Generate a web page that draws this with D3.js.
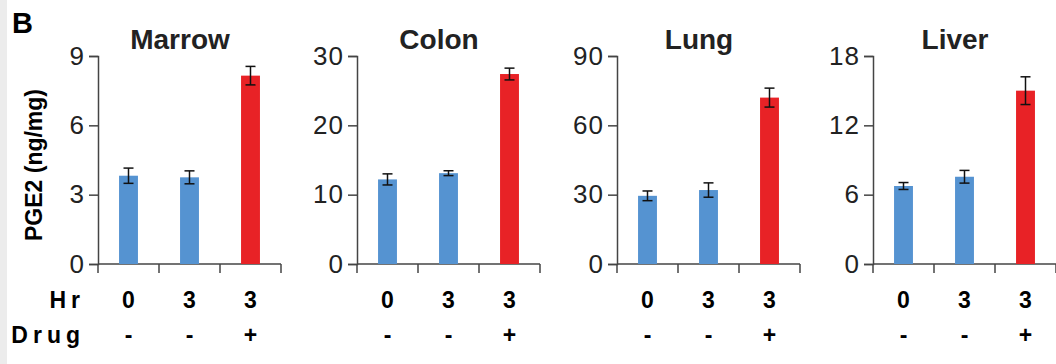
<!DOCTYPE html>
<html>
<head>
<meta charset="utf-8">
<script src="https://cdn.jsdelivr.net/npm/d3@7"></script>
<style>
  html, body { margin: 0; padding: 0; background: #fff; overflow: hidden; }
  svg { display: block; }
  svg text { font-family: "Liberation Sans", Arial, Helvetica, sans-serif; }
</style>
</head>
<body>
<div id="chart"></div>
<script>
// data
var tissues = ['Marrow', 'Colon', 'Lung', 'Liver'];
var yMax = [9, 30, 90, 18];
var tickStep = [3, 10, 30, 6];
var hrLabels = ['0', '3', '3'];
var drugLabels = ['-', '-', '+'];
var means = [
    [3.82, 3.75, 8.15],
    [12.2, 13.1, 27.4],
    [29.5, 32.0, 72.0],
    [6.75, 7.55, 15.0]
];
var errs = [
    [0.33, 0.28, 0.4],
    [0.8, 0.35, 0.85],
    [2.1, 3.1, 4.1],
    [0.3, 0.55, 1.2]
];
var barColors = ['#5593d1', '#5593d1', '#e82226'];

var width = 1056;
var height = 364;

var panelX = [98, 357, 617, 873];
var panelW = 183;
var yTop = 56;
var yBottom = 264;

var svg = d3.select('#chart').append('svg')
    .attr('width', width)
    .attr('height', height);

// light strip at the left edge of the scan
svg.append('rect')
    .attr('x', 0).attr('y', 0)
    .attr('width', 7).attr('height', height)
    .style('fill', '#ececec');

svg.append('text')
    .attr('x', 12).attr('y', 33)
    .style('font-size', '29px')
    .style('font-weight', 'bold')
    .text('B');

svg.append('text')
    .attr('transform', 'translate(' + 42 + ',' + 165 + ') rotate(-90)')
    .attr('text-anchor', 'middle')
    .style('font-size', '23px')
    .style('font-weight', 'bold')
    .text('PGE2 (ng/mg)');

// row labels
svg.append('text')
    .attr('x', 85).attr('y', 308)
    .attr('text-anchor', 'end')
    .style('font-size', '23px')
    .style('font-weight', 'bold')
    .style('letter-spacing', '5px')
    .text('Hr');
svg.append('text')
    .attr('x', 85).attr('y', 343)
    .attr('text-anchor', 'end')
    .style('font-size', '23px')
    .style('font-weight', 'bold')
    .style('letter-spacing', '5px')
    .text('Drug');

var xScale = d3.scaleBand()
    .domain([0, 1, 2])
    .range([0, panelW])
    .paddingInner(0.69)
    .paddingOuter(0.345);

tissues.forEach(function (name, i) {
    var g = svg.append('g')
        .attr('transform', 'translate(' + panelX[i] + ',0)');

    var yScale = d3.scaleLinear()
        .domain([0, yMax[i]])
        .range([yBottom, yTop]);

    var ticks = d3.range(0, yMax[i] + tickStep[i] / 2, tickStep[i]);

    var yAxis = d3.axisLeft(yScale)
        .tickValues(ticks)
        .tickSize(9)
        .tickPadding(4)
        .tickFormat(d3.format('d'));

    var yG = g.append('g').call(yAxis);
    yG.select('.domain').attr('stroke', '#444').attr('stroke-width', 1.5);
    yG.selectAll('.tick line').attr('stroke', '#444').attr('stroke-width', 1.5);
    yG.selectAll('.tick text')
        .style('font-size', '26px')
        .style('letter-spacing', '1px')
        .attr('fill', '#222');

    // x axis with ticks at the category edges
    var edges = d3.range(0, 4).map(function (k) { return k * xScale.step(); });
    var xG = g.append('g').attr('transform', 'translate(0,' + yBottom + ')');
    xG.append('line')
        .attr('x1', 0).attr('x2', panelW)
        .attr('stroke', '#444').attr('stroke-width', 1.5);
    xG.selectAll('.xtick')
        .data(edges)
        .enter()
        .append('line')
        .classed('xtick', true)
        .attr('x1', function (d) { return d; })
        .attr('x2', function (d) { return d; })
        .attr('y1', 0).attr('y2', 9)
        .attr('stroke', '#444').attr('stroke-width', 1.5);

    var rows = means[i].map(function (m, k) {
        return { k: k, m: m, e: errs[i][k] };
    });

    g.selectAll('.bar')
        .data(rows)
        .enter()
        .append('rect')
        .classed('bar', true)
        .attr('x', function (d) { return xScale(d.k); })
        .attr('y', function (d) { return yScale(d.m); })
        .attr('width', xScale.bandwidth())
        .attr('height', function (d) { return yBottom - yScale(d.m); })
        .style('fill', function (d) { return barColors[d.k]; });

    var eg = g.selectAll('.err')
        .data(rows)
        .enter()
        .append('g')
        .classed('err', true)
        .attr('transform', function (d) {
            return 'translate(' + (xScale(d.k) + xScale.bandwidth() / 2) + ',0)';
        });
    eg.append('line')
        .attr('y1', function (d) { return yScale(d.m + d.e); })
        .attr('y2', function (d) { return yScale(d.m - d.e); })
        .attr('stroke', '#111').attr('stroke-width', 1.5);
    eg.append('line')
        .attr('x1', -5).attr('x2', 5)
        .attr('y1', function (d) { return yScale(d.m + d.e); })
        .attr('y2', function (d) { return yScale(d.m + d.e); })
        .attr('stroke', '#111').attr('stroke-width', 1.5);
    eg.append('line')
        .attr('x1', -5).attr('x2', 5)
        .attr('y1', function (d) { return yScale(d.m - d.e); })
        .attr('y2', function (d) { return yScale(d.m - d.e); })
        .attr('stroke', '#111').attr('stroke-width', 1.5);

    g.append('text')
        .attr('x', 82).attr('y', 49)
        .attr('text-anchor', 'middle')
        .style('font-size', '28px')
        .style('font-weight', 'bold')
        .attr('fill', '#222')
        .text(name);

    g.selectAll('.hr')
        .data(hrLabels)
        .enter()
        .append('text')
        .attr('x', function (d, k) { return xScale(k) + xScale.bandwidth() / 2; })
        .attr('y', 308)
        .attr('text-anchor', 'middle')
        .style('font-size', '23px')
        .style('font-weight', 'bold')
        .text(function (d) { return d; });

    g.selectAll('.drug')
        .data(drugLabels)
        .enter()
        .append('text')
        .attr('x', function (d, k) { return xScale(k) + xScale.bandwidth() / 2; })
        .attr('y', 343)
        .attr('text-anchor', 'middle')
        .style('font-size', '23px')
        .style('font-weight', 'bold')
        .text(function (d) { return d; });
});
</script>
</body>
</html>
